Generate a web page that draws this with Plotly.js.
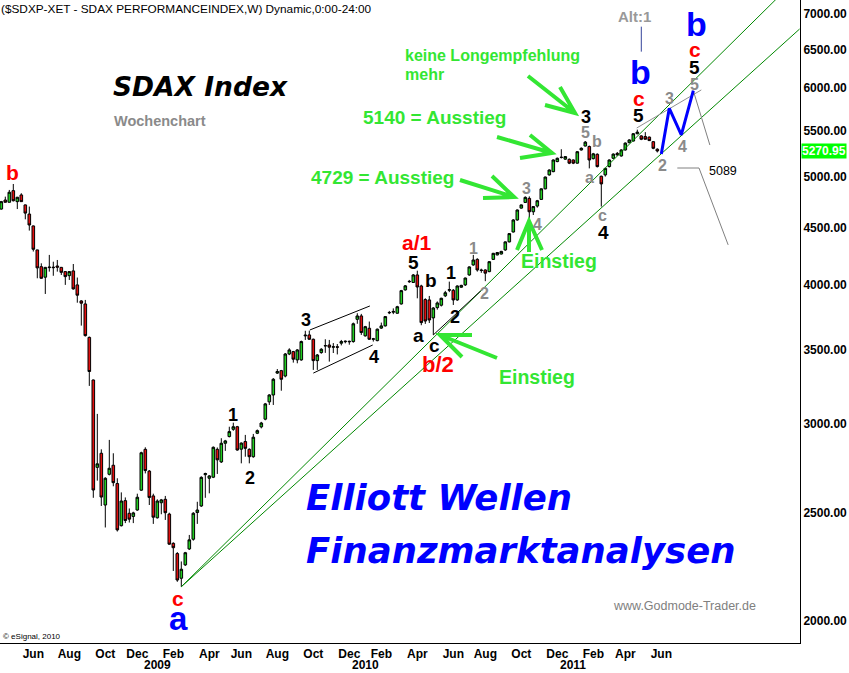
<!DOCTYPE html>
<html><head><meta charset="utf-8">
<script src="https://cdn.plot.ly/plotly-3.0.1.min.js"></script>
<style>html,body{margin:0;padding:0;background:#fff;}#chart{width:849px;height:673px;}</style>
</head><body><div id="chart"></div>
<script>
// ---- weekly OHLC data (SDAX Performance index, weekly bars from 2008-04-07) ----
const firstWeek = '2008-04-07';
const open = [4676,4764,4742,4857,4748,4814,4716,4628,4516,4298,4152,4063,4144,4148,4158,4146,4110,4076,4116,3999,
3869,3845,3589,3287,2745,2826,2540,2706,2757,2655,2434,2563,2497,2481,2514,2619,2849,2724,2588,2474,
2552,2570,2493,2347,2298,2184,2245,2320,2367,2501,2535,2704,2684,2690,2849,2776,2885,2925,2969,2985,
2850,2895,2849,2806,2945,2984,3032,3142,3187,3334,3351,3314,3468,3485,3426,3426,3600,3607,3575,3421,
3478,3526,3533,3517,3520,3546,3557,3560,3558,3725,3751,3600,3657,3575,3565,3658,3675,3775,3780,3772,
3845,3958,4025,4019,4082,3990,3880,3877,3736,3816,3835,3910,3955,3955,3877,3980,3999,4082,4167,4215,
4124,4124,4110,4215,4254,4262,4298,4370,4460,4572,4685,4740,4780,4650,4705,4770,4875,5017,5051,5157,
5200,5183,5181,5174,5140,5282,5325,5320,5188,5235,5003,5017,5104,5192,5245,5217,5282,5362,5380,5462,
5437,5430,5424,5373,5290];
const high = [4755,4797,4864,4924,4795,4831,4720,4700,4520,4300,4181,4150,4254,4195,4210,4150,4115,4115,4175,4060,
3875,3877,3595,3290,3065,2849,2690,2905,2826,2684,2607,2580,2522,2505,2600,2835,2861,2730,2600,2570,
2572,2588,2500,2352,2305,2261,2306,2388,2503,2557,2695,2715,2702,2866,2860,2915,2905,2985,3010,2990,
2890,2935,2855,2941,2968,3015,3135,3192,3300,3362,3356,3475,3509,3490,3503,3565,3638,3639,3580,3468,
3510,3575,3570,3547,3540,3570,3566,3565,3700,3772,3767,3675,3708,3585,3655,3700,3750,3790,3810,3830,
3958,3998,4040,4090,4118,4000,3890,3909,3820,3865,3895,3950,4026,3965,3995,4000,4060,4155,4254,4225,
4135,4130,4200,4272,4280,4290,4375,4450,4580,4672,4720,4800,4800,4705,4765,4880,5000,5075,5180,5200,
5290,5215,5190,5180,5270,5310,5380,5330,5250,5245,5010,5090,5180,5245,5260,5290,5365,5400,5470,5508,
5445,5480,5430,5380,5300];
const low = [4670,4738,4740,4750,4676,4745,4578,4473,4284,4054,4050,3925,4110,4075,4110,4082,3999,4040,3960,3855,
3677,3595,3247,2578,2671,2535,2425,2700,2640,2405,2430,2447,2450,2447,2510,2615,2711,2540,2443,2470,
2492,2463,2340,2217,2168,2146,2240,2315,2360,2443,2530,2578,2602,2685,2708,2770,2840,2920,2960,2841,
2768,2806,2768,2800,2940,2975,3025,3122,3122,3328,3215,3305,3460,3407,3402,3420,3570,3570,3356,3356,
3470,3476,3414,3475,3465,3530,3545,3535,3550,3691,3607,3595,3570,3558,3560,3652,3670,3765,3765,3768,
3840,3952,4016,4015,3890,3680,3690,3697,3607,3800,3825,3900,3940,3837,3870,3975,3990,4075,4160,4110,
4100,4030,4105,4210,4250,4258,4290,4365,4455,4565,4680,4735,4588,4619,4690,4765,4870,5010,5045,5150,
5190,5175,5130,5130,5135,5275,5320,5085,5180,5095,4700,5000,5095,5185,5220,5210,5275,5355,5375,5455,
5390,5395,5380,5290,5255];
const close = [4748,4742,4841,4757,4791,4748,4637,4525,4304,4142,4054,4146,4148,4144,4148,4104,4068,4110,3966,3915,
3851,3602,3345,2620,2765,2582,2684,2740,2660,2413,2561,2460,2467,2499,2581,2829,2727,2580,2477,2561,
2567,2500,2343,2326,2176,2225,2302,2364,2497,2514,2689,2710,2697,2861,2788,2885,2899,2955,2985,2845,
2886,2855,2806,2921,2961,3008,3129,3187,3292,3345,3292,3468,3497,3431,3497,3558,3605,3575,3421,3461,
3502,3528,3517,3520,3517,3558,3560,3557,3691,3751,3625,3669,3575,3578,3650,3675,3746,3778,3786,3823,
3952,3991,4028,4082,3982,3700,3712,3720,3813,3853,3890,3935,3960,3877,3990,3995,4056,4150,4210,4124,
4120,4097,4195,4268,4275,4285,4370,4445,4572,4667,4716,4790,4650,4700,4757,4875,4995,5068,5174,5192,
5203,5210,5140,5140,5263,5300,5368,5174,5240,5104,4925,5085,5174,5237,5228,5282,5357,5392,5462,5480,
5400,5400,5385,5300,5270.95];

// month / year tick labels
const monthTickDates = ['2008-06-02','2008-08-04','2008-10-06','2008-12-01','2009-02-02','2009-04-06','2009-06-01',
'2009-08-03','2009-10-05','2009-12-07','2010-02-01','2010-04-05','2010-06-07','2010-08-02','2010-10-04','2010-12-06',
'2011-02-07','2011-04-04','2011-06-06'];
const monthTickText = ['Jun','Aug','Oct','Dec','Feb','Apr','Jun','Aug','Oct','Dec','Feb','Apr','Jun','Aug','Oct','Dec','Feb','Apr','Jun'];
const yearLabelDates = ['2009-01-05','2010-01-04','2011-01-03'];
const yearLabels = ['2009','2010','2011'];
const priceTicks = [2000,2500,3000,3500,4000,4500,5000,5500,6000,6500,7000];

// drawn analysis lines (date, value)
const trendDates = ['2009-02-16','2012-02-03'];
const upperTrendVals = [2146,7561];
const lowerTrendVals = [2146,6778];
const b2LineDates = ['2010-05-03','2010-07-25'];
const b2LineVals = [3607,3950];
const flagTopDates = ['2009-09-29','2010-01-12'];
const flagTopVals = [3644,3829];
const flagBotDates = ['2009-10-05','2010-01-17'];
const flagBotVals = [3334,3533];
const projDates = ['2011-06-06','2011-06-20','2011-07-11','2011-08-01'];
const projVals = [5237,5756,5448,5969];
const peakLineDates = ['2011-04-24','2011-08-15'];
const peakLineVals = [5527,5978];
const dropDates = ['2011-08-01','2011-08-30'];
const dropVals = [5969,5336];
const stopLevel = 5089;
const stopDates = ['2011-07-04','2011-08-11','2011-10-01'];
const stopVals = [stopLevel,stopLevel,4343];
const altDates = ['2011-05-02','2011-05-02'];
const altVals = [6469,6811];

// ---- build ----
const t0 = Date.parse(firstWeek + 'T00:00:00Z');
const weeks = open.map((_, i) => new Date(t0 + i*7*86400000).toISOString().slice(0,10));

const W = 800, H = 643; // plot area in px
const PX = x => x / W, PY = y => 1 - y / H;
const ARIAL = 'Liberation Sans, Arial, sans-serif';
const GREEN = '#33e633', GRAY = '#8a8a8a';

function lab(text, x, y, size, color, opt) {
  const o = opt || {};
  return {xref:'paper', yref:'paper', x:PX(x), y:PY(y), text:text, showarrow:false,
    xanchor:o.xanchor||'center', yanchor:'middle', borderpad:0,
    font:{family:o.family||ARIAL, size:size, color:color, weight:o.weight||'bold', style:o.style||'normal'}};
}

const lineTrace = (x, y, color, width) => ({type:'scatter', mode:'lines', x:x, y:y,
  line:{color:color, width:width}, hoverinfo:'skip', showlegend:false});

const data = [
  lineTrace(trendDates, upperTrendVals, '#008800', 1),
  lineTrace(trendDates, lowerTrendVals, '#008800', 1),
  lineTrace(b2LineDates, b2LineVals, '#000', 1),
  lineTrace(flagTopDates, flagTopVals, '#000', 1),
  lineTrace(flagBotDates, flagBotVals, '#000', 1),
  lineTrace(peakLineDates, peakLineVals, '#909090', 1),
  lineTrace(dropDates, dropVals, '#808080', 1),
  lineTrace(stopDates, stopVals, '#808080', 1),
  lineTrace(altDates, altVals, '#34449a', 1),
  {type:'candlestick', x:weeks, open:open, high:high, low:low, close:close,
   increasing:{line:{color:'#000', width:1}, fillcolor:'#22cc22'},
   decreasing:{line:{color:'#000', width:1}, fillcolor:'#e01010'},
   whiskerwidth:0, hoverinfo:'skip', showlegend:false},
  lineTrace(projDates, projVals, '#0000ff', 3)
];

const ann = [
  lab('($SDXP-XET - SDAX PERFORMANCEINDEX,W) Dynamic,0:00-24:00', 0, 9, 11.8, '#000', {xanchor:'left', weight:'normal'}),
  lab('SDAX Index', 112, 86, 26.5, '#000', {xanchor:'left', family:'DejaVu Sans, sans-serif', style:'italic'}),
  lab('Wochenchart', 113, 121, 14.5, GRAY, {xanchor:'left'}),
  lab('b', 12, 173, 21, '#ff0000'),
  lab('1', 233, 415, 18, '#000'), lab('2', 250, 478, 18, '#000'),
  lab('3', 306, 320, 18, '#000'), lab('4', 374, 357, 18, '#000'),
  lab('5', 413, 262, 19, '#000'), lab('a/1', 417, 242, 21, '#ff0000'),
  lab('b', 431, 280, 19, '#000'), lab('a', 418, 335, 19, '#000'), lab('c', 434, 346, 19, '#000'),
  lab('b/2', 438, 364, 22, '#ff0000'),
  lab('1', 451, 273, 18, '#000'), lab('2', 455, 317, 18, '#000'),
  lab('1', 473, 248, 16, GRAY), lab('2', 485, 293, 16, GRAY), lab('3', 526, 188, 16, GRAY),
  lab('4', 537, 224, 16, GRAY), lab('5', 585, 133, 16, GRAY), lab('b', 597, 141, 16, GRAY),
  lab('a', 589, 178, 16, GRAY), lab('c', 602, 215, 16, GRAY), lab('2', 662, 166, 16, GRAY),
  lab('3', 669, 98, 16, GRAY), lab('4', 682, 146, 16, GRAY), lab('5', 694, 85, 16, GRAY),
  lab('3', 586, 117, 18, '#000'), lab('4', 603, 232, 19, '#000'),
  lab('5', 638, 115, 19, '#000'), lab('5', 694, 67, 19, '#000'),
  lab('c', 639, 98, 21, '#ff0000'), lab('c', 695, 49, 21, '#ff0000'), lab('c', 178, 598, 21, '#ff0000'),
  lab('b', 640, 72, 34, '#0000ff'), lab('b', 696, 24, 34, '#0000ff'), lab('a', 178, 618, 33, '#0000ff'),
  lab('Alt:1', 634, 16, 15, '#999'),
  lab(String(stopLevel), 723, 171, 12.5, '#000', {weight:'normal'}),
  lab('keine Longempfehlung', 404, 55, 16, GREEN, {xanchor:'left'}),
  lab('mehr', 404, 74, 16, GREEN, {xanchor:'left'}),
  lab('5140 = Ausstieg', 362, 117, 19, GREEN, {xanchor:'left'}),
  lab('4729 = Ausstieg', 310, 178, 19, GREEN, {xanchor:'left'}),
  lab('Einstieg', 520, 261, 19.5, GREEN, {xanchor:'left'}),
  lab('Einstieg', 498, 377, 19.5, GREEN, {xanchor:'left'}),
  lab('Elliott Wellen', 305, 497, 35.5, '#0000ff', {xanchor:'left', family:'DejaVu Sans, sans-serif', style:'italic'}),
  lab('Finanzmarktanalysen', 305, 550, 35.5, '#0000ff', {xanchor:'left', family:'DejaVu Sans, sans-serif', style:'italic'}),
  lab('www.Godmode-Trader.de', 612, 606, 12.5, '#808080', {xanchor:'left', weight:'normal'}),
  lab('© eSignal, 2010', 2, 636, 8, '#000', {xanchor:'left', weight:'normal'})
];
yearLabels.forEach((t, i) => ann.push({xref:'x', yref:'paper', x:yearLabelDates[i], y:PY(665), text:t,
  showarrow:false, xanchor:'center', yanchor:'middle', borderpad:0,
  font:{family:ARIAL, size:12, color:'#000', weight:'bold'}}));
const last = close[close.length-1];
ann.push({xref:'paper', yref:'y', x:1, y:Math.log10(last), xanchor:'left', yanchor:'middle', xshift:1,
  text:last.toFixed(2), showarrow:false, bgcolor:'#00ff00', borderpad:0,
  font:{family:ARIAL, size:12, color:'#ffffff', weight:'bold'}});

function arrow(s, t, a1, a2) {
  const p = q => PX(q[0]) + ' ' + PY(q[1]);
  return {type:'path', xref:'paper', yref:'paper', layer:'above',
    path:'M ' + p(s) + ' L ' + p(t) + ' M ' + p(a1) + ' L ' + p(t) + ' L ' + p(a2),
    line:{color:GREEN, width:4}};
}
const shapes = [
  arrow([528,76],[575,113],[560,87],[545,105]),
  arrow([497,137],[552,153],[530,135],[520,158]),
  arrow([460,180],[514,197],[492,176],[483,198]),
  arrow([529,252],[529,221],[517,250],[542,250]),
  arrow([497,358],[440,335],[472,335],[462,357])
];

const layout = {
  width:849, height:673, margin:{l:0, r:49, t:0, b:30, pad:0},
  paper_bgcolor:'#fff', plot_bgcolor:'#fff', showlegend:false, boxgap:0.35, boxgroupgap:0,
  xaxis:{type:'date', range:['2008-04-04 17:24','2012-02-03 17:24'], rangeslider:{visible:false},
    showgrid:false, zeroline:false, showline:true, linecolor:'#000', linewidth:1,
    tickmode:'array', tickvals:monthTickDates, ticktext:monthTickText, ticks:'',
    tickfont:{family:ARIAL, size:12, color:'#000', weight:'bold'}, fixedrange:true},
  yaxis:{type:'log', side:'right', range:[Math.log10(1911), Math.log10(7196)],
    tickmode:'array', tickvals:priceTicks, ticktext:priceTicks.map(v => v.toFixed(2)),
    showgrid:false, zeroline:false, showline:true, linecolor:'#000', linewidth:1, ticks:'',
    tickfont:{family:ARIAL, size:12, color:'#000', weight:'bold'}, fixedrange:true},
  annotations:ann, shapes:shapes
};
Plotly.newPlot('chart', data, layout, {displayModeBar:false, staticPlot:true});
</script></body></html>
